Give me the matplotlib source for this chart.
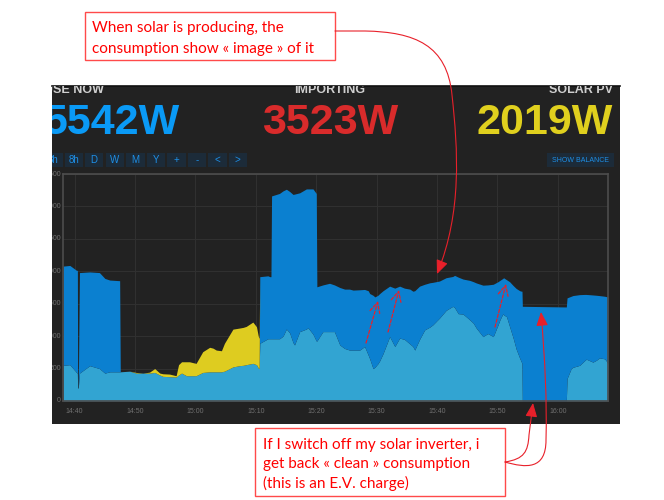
import numpy as np
import matplotlib
matplotlib.use("Agg")
import matplotlib.pyplot as plt
from matplotlib.path import Path
from matplotlib.patches import FancyArrowPatch, Rectangle
from matplotlib.transforms import blended_transform_factory

# ---------------- data ----------------
minutes = [-1.9, -0.8, 0.3, 0.45, 0.5, 0.6, 0.8, 2.5, 4.1, 5.0,
           5.8, 7.45, 7.55, 9.1, 10.2, 11.3, 12.4, 13.25, 14.1, 14.6,
           15.7, 16.8, 17.2, 17.7, 18.5, 19.0, 20.1, 21.2, 22.35, 22.9,
           23.45, 24.3, 24.8, 26.2, 27.3, 27.9, 28.4, 29.5, 30.1, 30.4,
           30.55, 30.65, 32.0, 32.3, 32.5, 32.6, 33.9, 34.5, 35.05, 35.6,
           36.15, 36.4, 37.25, 38.36, 38.63, 39.46, 40.0, 40.1, 41.1, 42.2,
           43.0, 43.9, 44.7, 45.5, 46.1, 47.2, 48.0, 48.6, 48.85, 49.4,
           49.7, 50.2, 50.5, 51.05, 52.15, 53.0, 53.8, 54.6, 55.5, 56.0,
           56.3, 57.1, 57.95, 58.8, 59.3, 60.4, 61.5, 62.6, 62.9, 63.5,
           64.3, 65.4, 66.0, 66.5, 67.6, 68.4, 69.3, 70.1, 70.4, 70.9,
           71.0, 71.5, 72.0, 72.6, 73.1, 73.7, 73.96, 74.06, 74.12, 81.4,
           81.52, 82.2, 82.5, 83.6, 84.4, 84.7, 85.8, 86.4, 86.9, 87.75,
           88.0, 88.3]
use_w = [2080, 2090, 2015, 2015, 200, 200, 1980, 1990, 1980, 1890,
         1865, 1855, 450, 460, 430, 430, 430, 440, 400, 380,
         375, 370, 400, 430, 390, 390, 390, 440, 450, 450,
         450, 450, 460, 525, 545, 550, 560, 580, 560, 510,
         500, 1917, 1930, 1917, 1917, 3162, 3200, 3240, 3265, 3230,
         3185, 3190, 3210, 3270, 3270, 3270, 3200, 1761, 1790, 1815,
         1790, 1750, 1725, 1725, 1710, 1715, 1720, 1700, 1657, 1630,
         1605, 1630, 1657, 1700, 1771, 1740, 1771, 1740, 1725, 1693,
         1700, 1771, 1800, 1823, 1830, 1850, 1901, 1920, 1937, 1910,
         1880, 1860, 1840, 1820, 1786, 1790, 1800, 1840, 1860, 1890,
         1901, 1870, 1840, 1780, 1735, 1700, 1693, 1693, 1460, 1450,
         1590, 1615, 1626, 1640, 1643, 1643, 1635, 1630, 1625, 1615,
         1610, 1605]
solar_w = [550, 560, 440, 430, 200, 200, 430, 545, 500, 430,
           450, 450, 450, 460, 440, 430, 445, 500, 430, 420,
           415, 390, 560, 605, 605, 605, 580, 760, 828, 815,
           785, 775, 890, 1108, 1125, 1135, 1150, 1217, 1145, 1000,
           965, 890, 960, 960, 960, 960, 960, 1000, 1110, 1050,
           900, 865, 1070, 1110, 1130, 1030, 925, 925, 1070, 1070,
           1070, 864, 810, 786, 786, 786, 840, 708, 650, 500,
           520, 575, 620, 730, 993, 840, 970, 950, 880, 840,
           786, 950, 1097, 1140, 1175, 1279, 1398, 1460, 1440, 1347,
           1340, 1253, 1200, 1123, 993, 1040, 993, 1175, 1250, 1347,
           1330, 1300, 1150, 970, 800, 656, 600, 580, 0, 0,
           345, 500, 520, 550, 620, 645, 600, 630, 665, 650,
           620, 575]

tick_minutes = [0, 10, 20, 30, 40, 50, 60, 70, 80]
tick_labels = ["14:40", "14:50", "15:00", "15:10", "15:20",
               "15:30", "15:40", "15:50", "16:00"]
y_ticks = [0, 500, 1000, 1500, 2000, 2500, 3000, 3500]

header_titles = ["USE NOW", "IMPORTING", "SOLAR PV"]
header_values = ["5542W", "3523W", "2019W"]
buttons = ["3h", "8h", "D", "W", "M", "Y", "+", "-", "<", ">"]

note_top = ["When solar is producing, the",
            "consumption show \u00ab image \u00bb of it"]
note_bottom = ["If I switch off my solar inverter, i",
               "get back \u00ab clean \u00bb consumption",
               "(this is an E.V. charge)"]

# ---------------- figure ----------------
W, H = 664, 500
fig = plt.figure(figsize=(6.64, 5.0), dpi=100)
fig.patch.set_facecolor("white")


def fx(x):
    return x / W


def fy(y):
    return 1 - y / H


def P(x, y):
    return (x / W, 1 - y / H)


SANS = ["Liberation Sans", "DejaVu Sans"]

# dark dashboard panel
panel = fig.add_axes([fx(52), fy(424), fx(620) - fx(52), fy(86) - fy(424)])
panel.set_facecolor("#222222")
panel.set_xticks([])
panel.set_yticks([])
for s in panel.spines.values():
    s.set_visible(False)
panel.spines["top"].set_visible(True)
panel.spines["top"].set_color("#111111")
panel.spines["top"].set_linewidth(1.2)

FT = fig.transFigure

# header
title_kw = dict(fontsize=9, fontweight="bold", color="#cfcfcf", family=SANS,
                va="baseline", transform=FT, clip_on=True)
panel.text(fx(44), fy(93), header_titles[0], ha="left", **title_kw)
panel.text(fx(330), fy(93), header_titles[1], ha="center", **title_kw)
panel.text(fx(613), fy(93), header_titles[2], ha="right", **title_kw)

val_kw = dict(fontsize=31, fontweight="bold", family=SANS, va="baseline",
              transform=FT, clip_on=True)
panel.text(fx(44), fy(134), header_values[0], ha="left", color="#0a9af6", **val_kw)
panel.text(fx(330), fy(134), header_values[1], ha="center", color="#d92b2b", **val_kw)
panel.text(fx(613), fy(134), header_values[2], ha="right", color="#e0d01e", **val_kw)

# buttons
for i, b in enumerate(buttons):
    x0 = 44 + i * 20.5
    panel.add_patch(Rectangle(P(x0, 167), 18.5 / W, 14 / H, transform=FT,
                              facecolor="#1c2b39", edgecolor="none"))
    panel.text(fx(x0 + 9.25), fy(160), b, transform=FT, ha="center", va="center",
               fontsize=7, color="#1e8fe6", family=SANS, clip_on=True)
panel.add_patch(Rectangle(P(547, 167), 67 / W, 14 / H, transform=FT,
                          facecolor="#1c2b39", edgecolor="none"))
panel.text(fx(580.5), fy(160), "SHOW BALANCE", transform=FT, ha="center",
           va="center", fontsize=5, color="#1e8fe6", family=SANS, clip_on=True)

# ---------------- chart ----------------
ax = fig.add_axes([fx(63), fy(401), fx(608) - fx(63), fy(174) - fy(401)])
ax.set_facecolor("#222222")
t = np.array(minutes, dtype=float)
use = np.array(use_w, dtype=float)
sol = np.array(solar_w, dtype=float)
low = np.minimum(use, sol)
high = np.maximum(use, sol)

ax.fill_between(t, 0, low, color="#32a4d2", lw=0, zorder=3)
ax.fill_between(t, low, use, color="#0b80d0", lw=0, zorder=3)
ax.fill_between(t, use, high, color="#decc20", lw=0, zorder=3)

ax.set_xlim(-1.93, 88.3)
ax.set_ylim(0, 3500)
ax.set_xticks(tick_minutes)
ax.set_xticklabels(tick_labels, family=SANS, fontsize=5, color="#707070")
ax.set_yticks(y_ticks)
ax.set_yticklabels([])
ax.tick_params(length=0, pad=5)
ax.grid(True, color="#303030", lw=0.8, zorder=0)
for s in ax.spines.values():
    s.set_color("#4d4d4d")
    s.set_linewidth(1.2)
    s.set_zorder(5)

ytrans = blended_transform_factory(FT, ax.transData)
for v in y_ticks:
    panel.text(fx(61), v, str(v), transform=ytrans, ha="right", va="center",
               fontsize=5, color="#707070", family=SANS, clip_on=True)

# ---------------- annotations ----------------
RED = "#e8202a"
NOTE_FONT = ["Lato", "DejaVu Sans"]

fig.add_artist(Rectangle(P(85, 60), 250 / W, 48 / H, transform=FT,
                         facecolor="white", edgecolor="#ff4a4a", lw=1.0, zorder=4))
for i, line in enumerate(note_top):
    fig.text(fx(92), fy(32 + 20.5 * i), line, color="#ff0000", fontsize=11,
             family=NOTE_FONT, ha="left", va="baseline", zorder=5)

fig.add_artist(Rectangle(P(255, 496), 250 / W, 68 / H, transform=FT,
                         facecolor="white", edgecolor="#ff4a4a", lw=1.0, zorder=4))
for i, line in enumerate(note_bottom):
    fig.text(fx(263), fy(449 + 19.3 * i), line, color="#ff0000", fontsize=11,
             family=NOTE_FONT, ha="left", va="baseline", zorder=5)

# curved arrow from the top note
p1 = Path([P(335, 31), P(365, 31), P(415, 32), P(447, 45), P(452, 95),
           P(458, 150), P(462, 212), P(437, 274)],
          [Path.MOVETO, Path.LINETO, Path.CURVE4, Path.CURVE4, Path.CURVE4,
           Path.CURVE4, Path.CURVE4, Path.CURVE4])
fig.add_artist(FancyArrowPatch(path=p1, transform=FT, color=RED, lw=0.8,
                               arrowstyle="-|>,head_length=1.4,head_width=0.6",
                               mutation_scale=6, zorder=6))

# two arrows from the bottom note
p2 = Path([P(505, 462), P(524, 459), P(528, 452), P(529, 435), P(533, 403)],
          [Path.MOVETO, Path.CURVE4, Path.CURVE4, Path.CURVE4, Path.LINETO])
fig.add_artist(FancyArrowPatch(path=p2, transform=FT, color=RED, lw=0.8,
                               arrowstyle="-|>,head_length=1.4,head_width=0.6",
                               mutation_scale=6, zorder=6))
p3 = Path([P(505, 462), P(526, 468), P(546, 470), P(546, 440),
           P(547, 400), P(545, 360), P(541, 312)],
          [Path.MOVETO, Path.CURVE4, Path.CURVE4, Path.CURVE4,
           Path.CURVE4, Path.CURVE4, Path.CURVE4])
fig.add_artist(FancyArrowPatch(path=p3, transform=FT, color=RED, lw=0.8,
                               arrowstyle="-|>,head_length=1.4,head_width=0.6",
                               mutation_scale=6, zorder=6))

# dashed arrows
for (xa, ya, xb, yb) in [(366, 343, 378, 301), (388, 332, 399, 290),
                         (495, 327, 506, 284)]:
    fig.add_artist(FancyArrowPatch(posA=P(xa, ya), posB=P(xb, yb), transform=FT,
                                   arrowstyle="->,head_length=1.2,head_width=0.6",
                                   mutation_scale=6, color=RED, lw=0.9,
                                   linestyle=(0, (2.5, 1.5)), shrinkA=0, shrinkB=0,
                                   zorder=6))

fig.savefig("out.png", dpi=100, facecolor="white")
